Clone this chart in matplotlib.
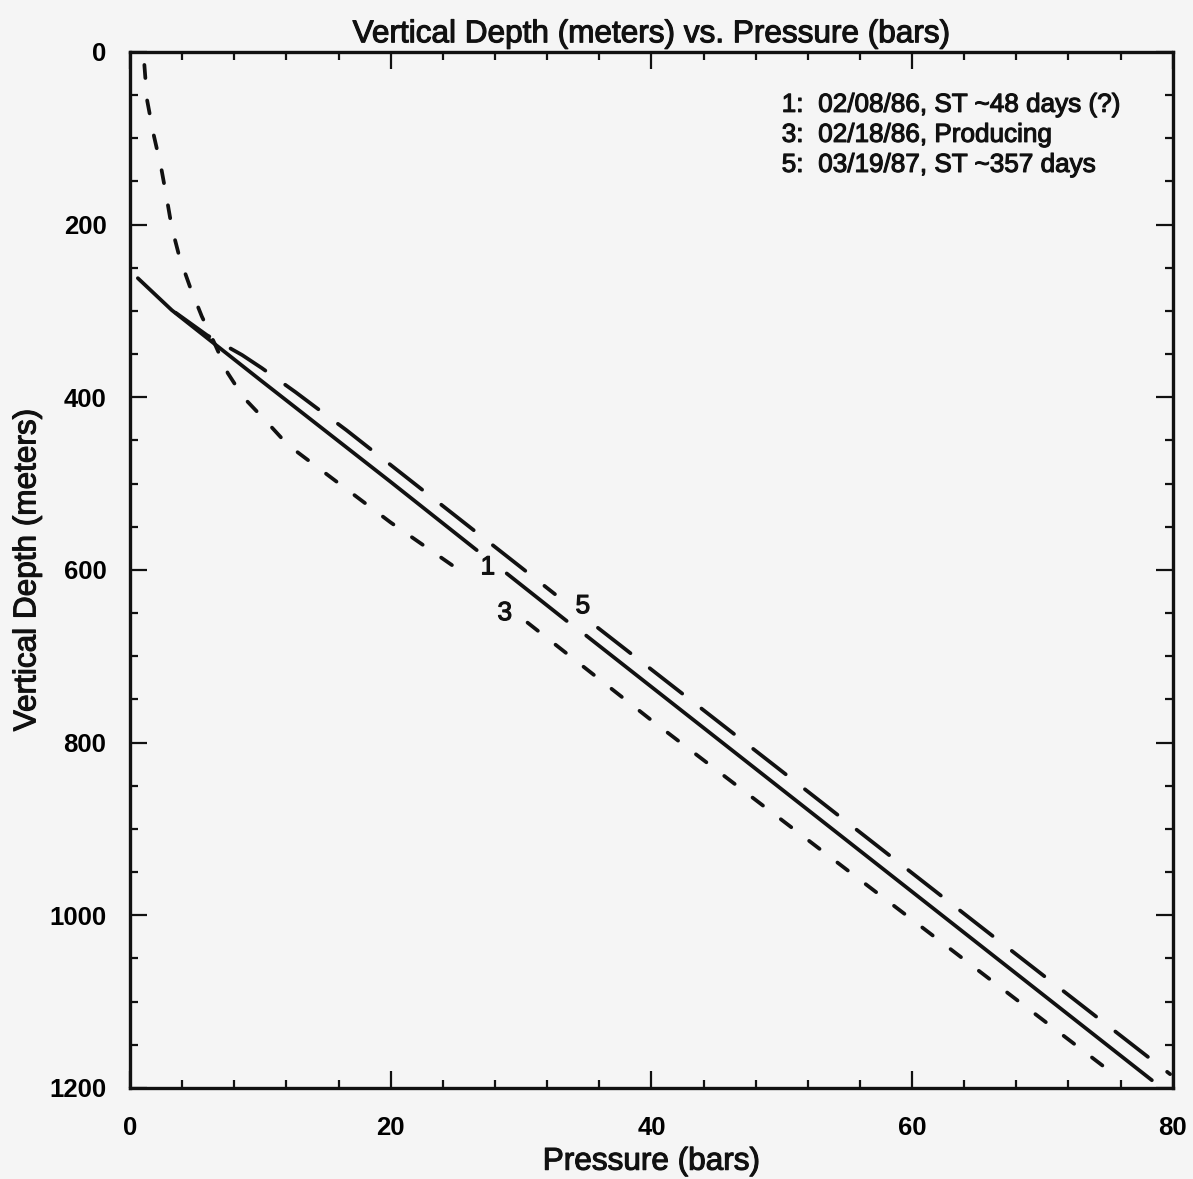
import numpy as np
import matplotlib
matplotlib.use("Agg")
import matplotlib.pyplot as plt
import matplotlib.patheffects as pe
from matplotlib.ticker import MultipleLocator

plt.rcParams['font.family'] = ['Liberation Sans', 'DejaVu Sans']

# curve 1 (solid), NaN marks the breaks around the inline labels
p1 = [0.6, 3.2, 10, 20, 26.6, np.nan, 28.9, 33.5, np.nan, 35.0, 50, 65, 78.4]
d1 = [262, 299, 380, 498, 577, np.nan, 604, 659, np.nan, 676, 854, 1032, 1191]

# curve 3 (short dash)
p3 = [1.1, 1.3, 1.8, 2.4, 2.8, 3.2, 3.8, 4.6, 5.5, 6.5, 7.5, 8.7, 10.4, 12.1, 20, 26.0,
      np.nan, 30.5, 40, 60, 75.3]
d3 = [15, 55, 95, 135, 168, 203, 238, 272, 306, 338, 372, 400, 427, 455, 545, 608,
      np.nan, 661, 774, 1005, 1182]

# curve 5 (long dash)
p5 = [3.5, 5.9, 8.6, 10.1, 12.7, 14.2, 16.6, 30, 32.6, np.nan, 35.9, 50, 65, 79.8]
d5 = [302, 328, 351, 366, 394, 411, 438, 597, 628, np.nan, 667, 833, 1010, 1184]

legend_nums = ["1:", "3:", "5:"]
legend_text = ["02/08/86, ST ~48 days (?)", "02/18/86, Producing", "03/19/87, ST ~357 days"]

inline_labels = ["1", "3", "5"]
inline_x = [27.45, 28.75, 34.74]
inline_y = [597, 650, 642]

bg = '#f5f5f5'
ink = '#111111'
# a thin stroke makes the text look as heavy as the scanned original
heavy = [pe.withStroke(linewidth=0.8, foreground=ink)]

fig = plt.figure(figsize=(11.93, 11.79), dpi=100, facecolor=bg)
ax = fig.add_axes([0.109, 0.0772, 0.874, 0.8787], facecolor=bg)

lw = 2.7
ax.plot(p1, d1, color=ink, lw=lw, solid_capstyle='round')
ax.plot(p3, d3, color=ink, lw=lw, dashes=(3.5, 6), dash_capstyle='round')
ax.plot(p5, d5, color=ink, lw=lw, dashes=(11, 6.5), dash_capstyle='round')

for lab, x, y in zip(inline_labels, inline_x, inline_y):
    ax.text(x, y, lab, fontsize=19, ha='center', va='center', color=ink, path_effects=heavy)

for i, (n, t) in enumerate(zip(legend_nums, legend_text)):
    yy = 0.949 - i * 0.029
    ax.text(0.625, yy, n, transform=ax.transAxes, fontsize=18.8, va='center', ha='left',
            color=ink, path_effects=heavy)
    ax.text(0.66, yy, t, transform=ax.transAxes, fontsize=18.8, va='center', ha='left',
            color=ink, path_effects=heavy)

ax.set_xlim(0, 80)
ax.set_ylim(1200, 0)
ax.xaxis.set_major_locator(MultipleLocator(20))
ax.xaxis.set_minor_locator(MultipleLocator(4))
ax.yaxis.set_major_locator(MultipleLocator(200))
ax.yaxis.set_minor_locator(MultipleLocator(50))

ax.tick_params(which='both', direction='in', top=True, right=True, color=ink, width=1.6)
ax.tick_params(which='major', length=12)
ax.tick_params(which='minor', length=6)
ax.tick_params(axis='x', which='major', pad=20, labelsize=18.5)
ax.tick_params(axis='y', which='major', pad=17, labelsize=18.5)
for lbl in ax.get_xticklabels() + ax.get_yticklabels():
    lbl.set_fontweight('bold')
for s in ax.spines.values():
    s.set_linewidth(2.4)
    s.set_color(ink)

ax.set_xlabel("Pressure (bars)", fontsize=22.7, labelpad=5, color=ink, path_effects=heavy)
ax.set_ylabel("Vertical Depth (meters)", fontsize=22.7, labelpad=5, color=ink, path_effects=heavy)
ax.set_title("Vertical Depth (meters) vs. Pressure (bars)", fontsize=22.7, pad=7, color=ink,
             path_effects=heavy)

fig.savefig("out.png", dpi=100, facecolor=bg)
